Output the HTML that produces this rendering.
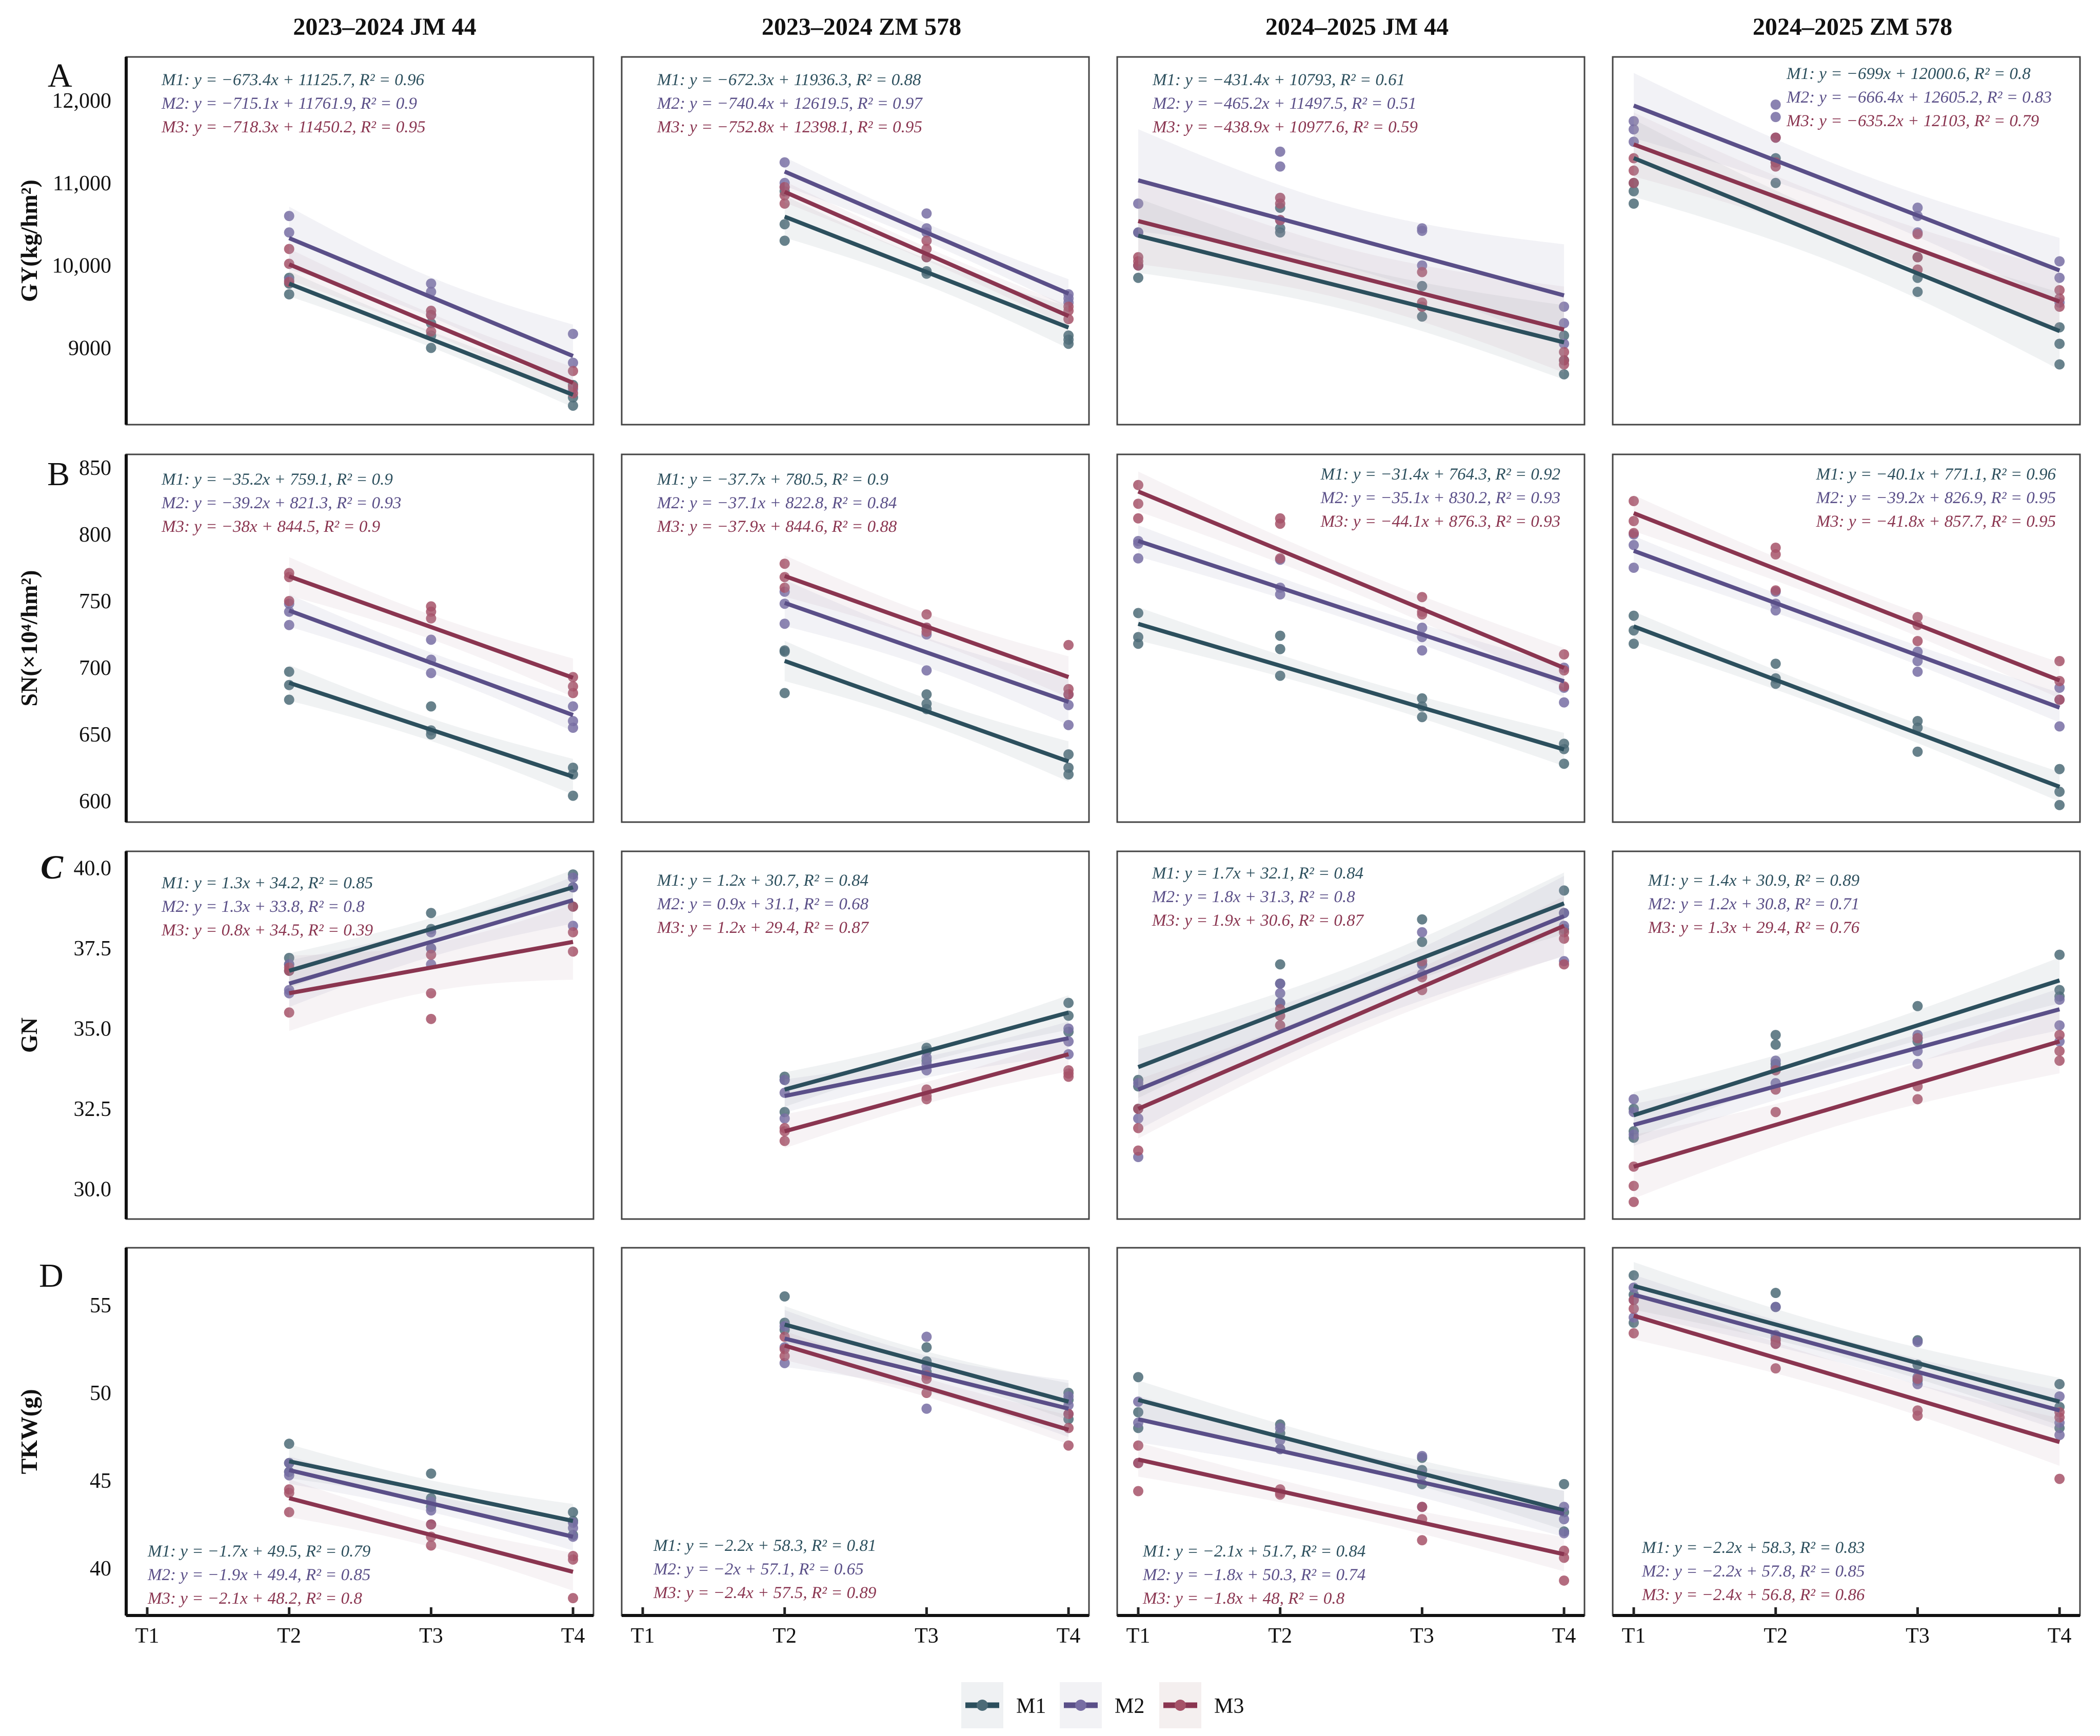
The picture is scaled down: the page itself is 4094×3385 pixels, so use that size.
<!DOCTYPE html>
<html><head><meta charset="utf-8">
<style>
html,body{margin:0;padding:0;background:#fff;}
svg{display:block;font-family:"Liberation Serif",serif;}
</style></head>
<body>
<svg id="fig" xmlns="http://www.w3.org/2000/svg" width="4094" height="3385" viewBox="0 0 4094 3385">
<rect x="0" y="0" width="4094" height="3385" fill="#fff"/>
</svg>
<script>
// ---------- data ----------
const columnTitles = ["2023–2024 JM 44","2023–2024 ZM 578","2024–2025 JM 44","2024–2025 ZM 578"];
const rowLetters = ["A","B","C","D"];
const rowTitles = ["GY(kg/hm²)","SN(×10⁴/hm²)","GN","TKW(g)"];
const seriesNames = ["M1","M2","M3"];
const xCategories = ["T1","T2","T3","T4"];
const panelStartT = [2,2,1,1];

const gyTicks = [9000,10000,11000,12000];
const gyTickLabels = ["9000","10,000","11,000","12,000"];
const snTicks = [600,650,700,750,800,850];
const snTickLabels = ["600","650","700","750","800","850"];
const gnTicks = [30,32.5,35,37.5,40];
const gnTickLabels = ["30.0","32.5","35.0","37.5","40.0"];
const tkwTicks = [40,45,50,55];
const tkwTickLabels = ["40","45","50","55"];

// regression slopes / intercepts / R2 : [panel][series]
const gySlope = [[-673.4,-715.1,-718.3],[-672.3,-740.4,-752.8],[-431.4,-465.2,-438.9],[-699,-666.4,-635.2]];
const gyIntercept = [[11125.7,11761.9,11450.2],[11936.3,12619.5,12398.1],[10793,11497.5,10977.6],[12000.6,12605.2,12103]];
const gyR2 = [[0.96,0.9,0.95],[0.88,0.97,0.95],[0.61,0.51,0.59],[0.8,0.83,0.79]];
const snSlope = [[-35.2,-39.2,-38],[-37.7,-37.1,-37.9],[-31.4,-35.1,-44.1],[-40.1,-39.2,-41.8]];
const snIntercept = [[759.1,821.3,844.5],[780.5,822.8,844.6],[764.3,830.2,876.3],[771.1,826.9,857.7]];
const snR2 = [[0.9,0.93,0.9],[0.9,0.84,0.88],[0.92,0.93,0.93],[0.96,0.95,0.95]];
const gnSlope = [[1.3,1.3,0.8],[1.2,0.9,1.2],[1.7,1.8,1.9],[1.4,1.2,1.3]];
const gnIntercept = [[34.2,33.8,34.5],[30.7,31.1,29.4],[32.1,31.3,30.6],[30.9,30.8,29.4]];
const gnR2 = [[0.85,0.8,0.39],[0.84,0.68,0.87],[0.84,0.8,0.87],[0.89,0.71,0.76]];
const tkwSlope = [[-1.7,-1.9,-2.1],[-2.2,-2,-2.4],[-2.1,-1.8,-1.8],[-2.2,-2.2,-2.4]];
const tkwIntercept = [[49.5,49.4,48.2],[58.3,57.1,57.5],[51.7,50.3,48],[58.3,57.8,56.8]];
const tkwR2 = [[0.79,0.85,0.8],[0.81,0.65,0.89],[0.84,0.74,0.8],[0.83,0.85,0.86]];

// observations: [panel][series][time][rep]
const gyPoints = [
 [[[9850,9780,9650],[9300,9150,9000],[8550,8400,8300]],
  [[10600,10400,9820],[9780,9680,9400],[9170,8820,8500]],
  [[10200,10020,9800],[9450,9400,9200],[8720,8530,8450]]],
 [[[10500,10300,10900],[9930,9900,10100],[9100,9050,9150]],
  [[11250,11000,10950],[10630,10450,10400],[9650,9600,9550]],
  [[10950,10850,10750],[10300,10200,10100],[9500,9350,9450]]],
 [[[10400,10000,9850],[10700,10450,10400],[9750,9500,9380],[9150,8850,8680]],
  [[10750,10400,10000],[11380,11200,10550],[10450,10420,10000],[9500,9300,9050]],
  [[10100,10050,10000],[10820,10750,10550],[9920,9550,9500],[8950,8850,8800]]],
 [[[11000,10900,10750],[11300,11250,11000],[10100,9850,9680],[9250,9050,8800]],
  [[11750,11650,11500],[11950,11800,11550],[10700,10600,10400],[10050,9850,9550]],
  [[11300,11150,11000],[11550,11250,11200],[10380,10100,9950],[9700,9600,9500]]]
];
const snPoints = [
 [[[697,687,676],[671,653,650],[625,620,604]],
  [[748,742,732],[721,706,696],[671,660,655]],
  [[771,768,750],[746,742,737],[693,686,681]]],
 [[[713,712,681],[680,673,669],[635,625,620]],
  [[757,748,733],[730,725,698],[680,672,657]],
  [[778,768,760],[740,730,727],[717,684,680]]],
 [[[741,723,718],[724,714,694],[677,671,663],[643,639,628]],
  [[795,793,782],[781,760,755],[730,723,713],[700,685,674]],
  [[837,823,812],[812,808,782],[753,742,740],[710,698,686]]],
 [[[739,728,718],[703,692,688],[660,655,637],[624,607,597]],
  [[800,792,775],[757,748,743],[712,705,697],[685,676,656]],
  [[825,810,801],[790,785,758],[738,732,720],[705,690,676]]]
];
const gnPoints = [
 [[[37.2,37.0,36.8],[38.6,38.1,37.5],[39.8,39.4,38.8]],
  [[37.0,36.2,36.1],[38.0,37.5,37.0],[39.7,39.4,38.2]],
  [[36.9,36.8,35.5],[37.3,36.1,35.3],[38.8,38.0,37.4]]],
 [[[33.5,33.4,32.4],[34.4,34.3,34.0],[35.8,35.4,34.9]],
  [[33.4,33.0,32.2],[34.1,33.9,33.7],[35.0,34.6,34.2]],
  [[31.9,31.8,31.5],[33.1,32.9,32.8],[33.7,33.6,33.5]]],
 [[[33.4,33.2,32.5],[37.0,36.4,35.8],[38.4,37.7,37.0],[39.3,38.6,38.1]],
  [[33.3,32.2,31.0],[36.4,36.1,35.8],[38.0,37.0,36.7],[38.6,38.2,37.1]],
  [[32.5,31.9,31.2],[35.6,35.4,35.1],[37.1,36.6,36.2],[38.0,37.8,37.0]]],
 [[[32.5,31.8,31.6],[34.8,34.5,33.9],[35.7,34.7,34.6],[37.3,36.2,36.0]],
  [[32.8,32.4,31.7],[34.0,33.8,33.3],[34.8,34.3,33.9],[35.9,35.1,34.6]],
  [[30.7,30.1,29.6],[33.7,33.1,32.4],[34.7,33.2,32.8],[34.8,34.3,34.0]]]
];
const tkwPoints = [
 [[[47.1,46.0,45.5],[45.4,44.0,43.5],[43.2,42.7,41.9]],
  [[46.0,45.5,45.3],[43.8,43.3,42.5],[42.6,42.3,41.8]],
  [[44.5,44.3,43.2],[42.5,41.8,41.3],[40.7,40.5,38.3]]],
 [[[55.5,54.0,53.6],[52.6,51.8,51.2],[50.0,49.6,48.5]],
  [[53.8,52.6,51.7],[53.2,51.5,49.1],[49.8,49.3,48.8]],
  [[53.2,52.5,52.1],[51.0,50.8,50.0],[48.8,48.0,47.0]]],
 [[[50.9,48.9,48.0],[48.2,47.7,46.8],[46.3,45.6,44.8],[44.8,43.2,42.1]],
  [[49.5,48.3,46.0],[48.0,47.3,46.8],[46.4,45.3,43.5],[43.5,42.8,42.0]],
  [[47.0,46.0,44.4],[44.5,44.2,44.3],[43.5,42.8,41.6],[41.0,40.6,39.3]]],
 [[[56.7,55.6,54.0],[55.7,54.9,53.1],[53.0,51.6,50.7],[50.5,49.2,48.0]],
  [[56.0,55.3,54.3],[54.9,53.3,52.8],[52.9,50.9,50.5],[49.8,48.3,47.6]],
  [[55.3,54.8,53.4],[53.0,52.8,51.4],[50.8,49.0,48.7],[48.9,48.6,45.1]]]
];

// ---------- layout ----------
const NS = "http://www.w3.org/2000/svg";
const svg = document.getElementById('fig');
const colLeft = [246,1212,2178,3144];
const panelW = 911;
const rowTop = [111,886,1660,2433];
const panelH = 717;
const lineColor = ["#2c4f5d","#5a4f88","#8a3550"];
const pointColor = ["#4c6b77","#776da3","#a65268"];
const bandColor = ["#8a9aa6","#9c97b8","#c2a6ae"];
const yRef = [[12000,196,0.1608],[850,912,2.6],[40,1692.6,62.6],[55,2545,34.2]];
const rowTicks = [gyTicks,snTicks,gnTicks,tkwTicks];
const rowTickLabels = [gyTickLabels,snTickLabels,gnTickLabels,tkwTickLabels];
const rowSlope = [gySlope,snSlope,gnSlope,tkwSlope];
const rowIntercept = [gyIntercept,snIntercept,gnIntercept,tkwIntercept];
const rowR2 = [gyR2,snR2,gnR2,tkwR2];
const rowPoints = [gyPoints,snPoints,gnPoints,tkwPoints];
const eqPos = [
 [[69,43,'start'],[69,43,'start'],[69,43,'start'],[339,31,'start']],
 [[69,47,'start'],[69,47,'start'],[864,37,'end'],[864,37,'end']],
 [[69,60,'start'],[69,55,'start'],[68,41,'start'],[69,55,'start']],
 [[42,590,'start'],[62,579,'start'],[50,590,'start'],[57,583,'start']]
];

function el(tag, attrs, parent){
  const e = document.createElementNS(NS, tag);
  for (const k in attrs) e.setAttribute(k, attrs[k]);
  (parent||svg).appendChild(e);
  return e;
}
function xScale(c, t){ return colLeft[c] + 41 + (t-1)*276.7; }
function yScale(r, v){ return yRef[r][1] + (yRef[r][0]-v)*yRef[r][2]; }
function fmt(v){ return String(v).replace('-', '−'); }
function eqText(s, slope, icpt, r2){
  return seriesNames[s] + ": y = " + fmt(slope) + "x + " + icpt + ", R² = " + r2;
}

columnTitles.forEach((t,c)=>{
  const cx = c===0 ? 750 : colLeft[c] + panelW/2 + 12;
  const e = el('text',{x:cx,y:68,'text-anchor':'middle','font-size':48,'font-weight':'bold',fill:'#111'});
  e.textContent = t;
  
  
});

const letterBase = [169,946,1713,2509];
const letterX = [93,92,79,76];
for (let r=0;r<4;r++){
  const L = el('text',{x:letterX[r],y:letterBase[r],'font-size':66,fill:'#111','font-style': r===2?'italic':'normal','font-weight': r===2?'bold':'normal'});
  L.textContent = rowLetters[r];
  
  
  const cy = rowTop[r] + panelH/2;
  const yt = el('text',{x:0,y:0,'text-anchor':'middle','font-size':46,'font-weight':'bold',fill:'#111',transform:'translate(72,'+cy+') rotate(-90)'});
  yt.textContent = rowTitles[r];
  
  
  rowTicks[r].forEach((v,i)=>{
    const py = yScale(r,v);
    const tk = el('line',{x1:colLeft[0],x2:colLeft[0]+14,y1:py,y2:py,stroke:'#222','stroke-width':5});
    
    
    const tl = el('text',{x:217,y:py+14,'text-anchor':'end','font-size':42,fill:'#111'});
    tl.textContent = rowTickLabels[r][i];
    
    
  });

  for (let c=0;c<4;c++){
    const g = el('g',{});
    
    
    const x0 = colLeft[c], y0 = rowTop[r];
    el('rect',{x:x0,y:y0,width:panelW,height:panelH,fill:'#fff',stroke:'#444','stroke-width':3},g);
    const pts = rowPoints[r][c];
    const t0 = panelStartT[c];
    for (let s=0;s<3;s++){
      pts[s].forEach((reps,ti)=>{
        reps.forEach(v=>{
          const p = el('circle',{cx:xScale(c,t0+ti),cy:yScale(r,v),r:10,fill:pointColor[s],'fill-opacity':0.85},g);
          
          
        });
      });
    }
    for (let s=0;s<3;s++){
      const a = rowSlope[r][c][s], b = rowIntercept[r][c][s];
      const xs=[], ys=[];
      pts[s].forEach((reps,ti)=>reps.forEach(v=>{xs.push(t0+ti);ys.push(v);}));
      const n = xs.length;
      const xbar = xs.reduce((p,q)=>p+q,0)/n;
      let sse=0, sxx=0;
      for (let i=0;i<n;i++){ const e=ys[i]-(a*xs[i]+b); sse+=e*e; sxx+=(xs[i]-xbar)*(xs[i]-xbar); }
      const sd = Math.sqrt(sse/(n-2));
      const tq = n>10 ? 2.228 : 2.365;
      const up=[], lo=[];
      for (let k=0;k<=40;k++){
        const xv = t0 + (4-t0)*k/40;
        const se = sd*Math.sqrt(1/n + (xv-xbar)*(xv-xbar)/sxx);
        const yh = a*xv+b;
        up.push(xScale(c,xv).toFixed(1)+','+yScale(r,yh+tq*se).toFixed(1));
        lo.unshift(xScale(c,xv).toFixed(1)+','+yScale(r,yh-tq*se).toFixed(1));
      }
      const band = el('polygon',{points:up.concat(lo).join(' '),fill:bandColor[s],'fill-opacity':0.13},g);
      
      
    }
    for (let s=0;s<3;s++){
      const a = rowSlope[r][c][s], b = rowIntercept[r][c][s];
      const ln = el('line',{x1:xScale(c,t0),y1:yScale(r,a*t0+b),x2:xScale(c,4),y2:yScale(r,a*4+b),stroke:lineColor[s],'stroke-width':8},g);
      
      
    }
    const ep = eqPos[r][c];
    for (let s=0;s<3;s++){
      const t = el('text',{x:x0+ep[0],y:y0+ep[1]+12+s*46,'text-anchor':ep[2],'font-size':33,'font-style':'italic',fill:lineColor[s]},g);
      t.textContent = eqText(s, rowSlope[r][c][s], rowIntercept[r][c][s], rowR2[r][c][s]);
      
      
    }
    if (c===0){
      el('line',{x1:x0,x2:x0,y1:y0,y2:y0+panelH,stroke:'#111','stroke-width':6},g);
    }
    if (r===3){
      el('line',{x1:x0,x2:x0+panelW,y1:y0+panelH,y2:y0+panelH,stroke:'#111','stroke-width':6},g);
      xCategories.forEach((lab,i)=>{
        const px = xScale(c,i+1);
        el('line',{x1:px,x2:px,y1:y0+panelH-16,y2:y0+panelH,stroke:'#222','stroke-width':5},g);
        const xl = el('text',{x:px,y:3203,'text-anchor':'middle','font-size':42,fill:'#111'},g);
        xl.textContent = lab;
        
        
      });
    }
  }
}

const legX = [1874,2066,2260];
const legFill = ["#eff1f3","#f2f2f5","#f4efef"];
const lg = el('g',{});


for (let s=0;s<3;s++){
  const item = el('g',{},lg);
  
  
  el('rect',{x:legX[s],y:3280,width:82,height:90,fill:legFill[s]},item);
  el('line',{x1:legX[s]+8,x2:legX[s]+74,y1:3325,y2:3325,stroke:lineColor[s],'stroke-width':11},item);
  el('circle',{cx:legX[s]+41,cy:3325,r:11,fill:pointColor[s]},item);
  const t = el('text',{x:legX[s]+107,y:3340,'font-size':42,fill:'#111'},item);
  t.textContent = seriesNames[s];
}
</script>
</body></html>
